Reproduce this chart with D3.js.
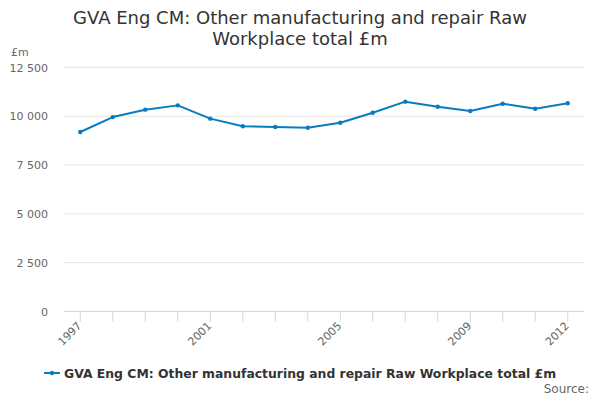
<!DOCTYPE html>
<html><head><meta charset="utf-8">
<script src="https://cdn.jsdelivr.net/npm/d3@7/dist/d3.min.js"></script>
<style>body{margin:0;background:#fff;}svg{display:block;font-family:"DejaVu Sans",sans-serif;}</style>
</head><body><svg id="c" width="600" height="400"></svg>
<script>
const years = ["1997","1998","1999","2000","2001","2002","2003","2004","2005","2006","2007","2008","2009","2010","2011","2012"];
const values = [9195,9960,10340,10560,9880,9490,9450,9415,9670,10185,10750,10490,10270,10645,10390,10665];
const yTicks = [0,2500,5000,7500,10000,12500];
const xLabels = ["1997","2001","2005","2009","2012"];
const seriesName = "GVA Eng CM: Other manufacturing and repair Raw Workplace total £m";
const titleLines = ["GVA Eng CM: Other manufacturing and repair Raw","Workplace total £m"];

const svg = d3.select("#c");
const L = 64, R = 584, T = 67.5, B = 311.5;
const x = d3.scalePoint().domain(years).range([L, R]).padding(0.5);
const y = d3.scaleLinear().domain([0, 12500]).range([B, T]);
const blue = "#0a7bc1";

// title
svg.append("text").attr("x", 300).attr("y", 24).attr("text-anchor","middle")
  .attr("font-size", 18).attr("fill","#333")
  .selectAll("tspan").data(titleLines).join("tspan")
  .attr("x",300).attr("dy",(d,i)=> i? 21 : 0).text(d=>d);

// gridlines
svg.append("g").selectAll("line").data(yTicks.filter(d=>d>0)).join("line")
  .attr("x1", L).attr("x2", R).attr("y1", d=>y(d)).attr("y2", d=>y(d))
  .attr("stroke","#e6e6e6").attr("stroke-width",1);

// y axis labels
const fmt = d => d3.format(",")(d).replace(/,/g, " ");
svg.append("g").selectAll("text").data(yTicks).join("text")
  .attr("x", 48).attr("y", d=>y(d)+4).attr("text-anchor","end")
  .attr("font-size", 11).attr("fill","#666").text(fmt);
svg.append("text").attr("x", 11).attr("y", 56).attr("font-size", 11).attr("fill","#666").text("£m");

// x axis
const xa = svg.append("g").attr("transform", `translate(0,${B})`);
xa.append("line").attr("x1", L).attr("x2", R).attr("stroke","#ccd6eb");
xa.selectAll("line.t").data(years).join("line").attr("class","t")
  .attr("x1", d=>x(d)).attr("x2", d=>x(d)).attr("y1",0).attr("y2",10)
  .attr("stroke","#ccd6eb");
xa.selectAll("text").data(xLabels).join("text")
  .attr("transform", d=>`translate(${x(d)+2},${15}) rotate(-45)`)
  .attr("text-anchor","end").attr("font-size", 11).attr("fill","#666").text(d=>d);

// line
const line = d3.line().x((d,i)=>x(years[i])).y(d=>y(d));
svg.append("path").datum(values).attr("d", line).attr("fill","none")
  .attr("stroke", blue).attr("stroke-width", 2).attr("stroke-linejoin","round");
svg.append("g").selectAll("circle").data(values).join("circle")
  .attr("cx",(d,i)=>x(years[i])).attr("cy", d=>y(d)).attr("r", 2.2).attr("fill", blue);

// legend
svg.append("line").attr("x1",44).attr("x2",60).attr("y1",373).attr("y2",373).attr("stroke",blue).attr("stroke-width",2);
svg.append("circle").attr("cx",52).attr("cy",373).attr("r",2.2).attr("fill",blue);
svg.append("text").attr("x",64).attr("y",377.5).attr("font-size",12.4).attr("font-weight","bold").attr("fill","#333").text(seriesName);

svg.append("text").attr("x",589).attr("y",393).attr("text-anchor","end").attr("font-size",12).attr("fill","#666").text("Source:");
</script></body></html>
